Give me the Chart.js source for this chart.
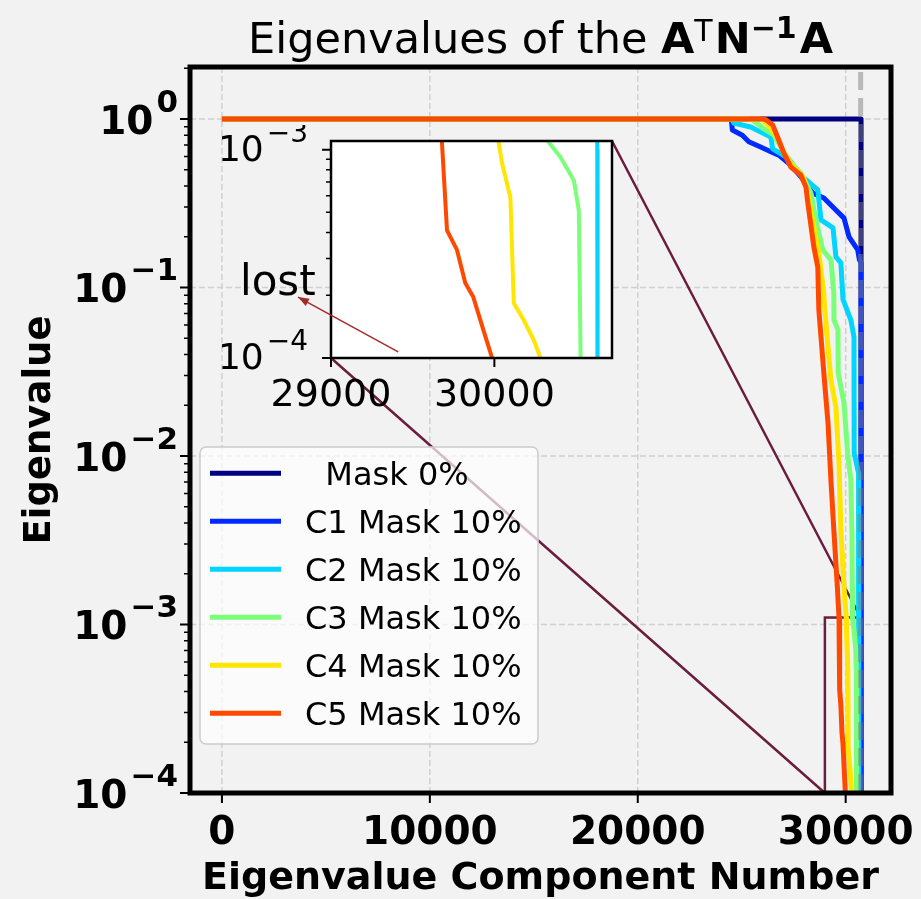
<!DOCTYPE html>
<html>
<head>
<meta charset="utf-8">
<script src="https://cdn.jsdelivr.net/npm/chart.js@4.4.1/dist/chart.umd.min.js"></script>
<style>
  html, body { margin: 0; padding: 0; background: #f2f2f2; }
  #wrap { position: relative; width: 921px; height: 899px; }
  #main { position: absolute; left: 0; top: 0; }
  #inset { position: absolute; left: 200px; top: 125px; }
</style>
</head>
<body>
<div id="wrap">
  <canvas id="main" width="921" height="899"></canvas>
  <canvas id="inset" width="430" height="300"></canvas>
</div>
<script>
// ---- data ----
const seriesLabels = ['  Mask 0%', 'C1 Mask 10%', 'C2 Mask 10%', 'C3 Mask 10%', 'C4 Mask 10%', 'C5 Mask 10%'];
const seriesColors = ['#000080', '#002aff', '#00d4ff', '#7bff7b', '#ffe500', '#ff4900'];

const mask0X = [0, 30740, 30740];
const mask0Y = [1, 1, 1e-6];

const c1X = [0, 24500, 24550, 25030, 25340, 25910, 26400, 26780, 27360, 27840, 28410, 28950, 29430, 29920, 30160, 30580, 30660, 30740, 30740];
const c1Y = [1, 1, 0.86, 0.80, 0.733, 0.682, 0.64, 0.61, 0.533, 0.455, 0.364, 0.34, 0.296, 0.258, 0.20, 0.167, 0.146, 0.14, 1e-6];

const c2X = [0, 24550, 24610, 25430, 26400, 26490, 27220, 27840, 28660, 28810, 29390, 29530, 29770, 29870, 30250, 30400, 30410, 30620, 30630, 30632];
const c2Y = [1, 1, 0.947, 0.896, 0.782, 0.664, 0.587, 0.465, 0.379, 0.252, 0.226, 0.152, 0.140, 0.085, 0.0641, 0.0508, 0.0104, 0.0079, 0.001, 1e-6];

const c3X = [0, 25300, 25530, 26010, 26540, 26880, 27360, 27840, 28330, 28570, 28900, 29290, 29430, 29440, 29630, 29640, 29920, 30110, 30250, 30300, 30320, 30330, 30405, 30487, 30517, 30528, 30532];
const c3Y = [1, 1, 0.986, 0.884, 0.804, 0.682, 0.548, 0.478, 0.364, 0.252, 0.167, 0.146, 0.0927, 0.0641, 0.056, 0.0311, 0.0206, 0.00986, 0.00721, 0.0036, 0.0017, 0.00109, 0.00092, 0.00071, 0.00051, 0.0001, 1e-6];

const c4X = [0, 25800, 26010, 26400, 26780, 27020, 27510, 27990, 28230, 28470, 28710, 28950, 28960, 29150, 29290, 29530, 29680, 29770, 29920, 30026, 30047, 30098, 30119, 30180, 30241, 30282, 30310];
const c4Y = [1, 1, 0.99, 0.884, 0.75, 0.629, 0.519, 0.447, 0.331, 0.229, 0.16, 0.0927, 0.0843, 0.0443, 0.0283, 0.0195, 0.00908, 0.00364, 0.00167, 0.00109, 0.00086, 0.00059, 0.000183, 0.000152, 0.000122, 0.0001, 1e-6];

const c5X = [0, 26000, 26160, 26490, 26780, 27020, 27360, 27840, 28090, 28180, 28470, 28660, 28710, 28950, 29150, 29290, 29430, 29600, 29679, 29710, 29771, 29822, 29871, 29933, 29986, 30010];
const c5Y = [1, 1, 0.99, 0.921, 0.75, 0.629, 0.519, 0.465, 0.395, 0.317, 0.174, 0.132, 0.0735, 0.0311, 0.0157, 0.00721, 0.00364, 0.00167, 0.00109, 0.00041, 0.00033, 0.000229, 0.000196, 0.000136, 0.0001, 1e-6];

// dashed vertical marker at the last component
const markerX = [30720, 30720];
const markerY = [1e-6, 10];

const mainXTicks = [0, 10000, 20000, 30000];
const mainYExps = [-4, -3, -2, -1, 0];
const insetXTicks = [29000, 30000];
const insetYExps = [-4, -3];
const insetXRange = [29000, 30720];
const insetYRange = [1e-4, 1.1e-3];

const lostTip = { x: 28798, y: 1.96e-4 };
const lostTail = { x: 29411, y: 1.07e-4 };

const FONT = '"DejaVu Sans", sans-serif';
const seriesX = [mask0X, c1X, c2X, c3X, c4X, c5X];
const seriesY = [mask0Y, c1Y, c2Y, c3Y, c4Y, c5Y];

function toPoints(xs, ys) {
  return xs.map((v, i) => ({ x: v, y: ys[i] }));
}

function makeDatasets(width) {
  return seriesLabels.map((lab, i) => ({
    label: lab,
    data: toPoints(seriesX[i], seriesY[i]),
    borderColor: seriesColors[i],
    borderWidth: width,
    order: 10 - i,
    clip: 0
  }));
}

function powLabel(ctx, exp, xRight, yTick, baseFont, supFont, baseDy, supDy) {
  const sup = exp < 0 ? '\u2212' + Math.abs(exp) : String(exp);
  ctx.font = baseFont;
  const wb = ctx.measureText('10').width;
  ctx.font = supFont;
  const ws = ctx.measureText(sup).width;
  const x0 = xRight - wb - ws - 3;
  ctx.font = baseFont;
  ctx.fillText('10', x0, yTick + baseDy);
  ctx.font = supFont;
  ctx.fillText(sup, x0 + wb + 3, yTick + supDy);
}

// ---- inset ----
const insetCanvas = document.getElementById('inset');

const insetDecor = {
  id: 'insetDecor',
  beforeDatasetsDraw(chart) {
    const { ctx, chartArea: a } = chart;
    ctx.save();
    ctx.fillStyle = '#ffffff';
    ctx.fillRect(a.left, a.top, a.right - a.left, a.bottom - a.top);
    ctx.restore();
  },
  afterDatasetsDraw(chart) {
    const { ctx, chartArea: a, scales: { x, y } } = chart;
    ctx.save();
    ctx.strokeStyle = '#000';
    ctx.lineWidth = 2.5;
    ctx.strokeRect(a.left, a.top, a.right - a.left, a.bottom - a.top);

    ctx.lineWidth = 2;
    ctx.beginPath();
    insetXTicks.forEach(v => {
      const p = x.getPixelForValue(v);
      ctx.moveTo(p, a.bottom); ctx.lineTo(p, a.bottom + 9);
    });
    insetYExps.forEach(e => {
      const p = y.getPixelForValue(Math.pow(10, e));
      ctx.moveTo(a.left - 9, p); ctx.lineTo(a.left, p);
    });
    ctx.stroke();
    ctx.lineWidth = 1.5;
    ctx.beginPath();
    for (let m = 2; m <= 9; m++) {
      const p = y.getPixelForValue(m * 1e-4);
      ctx.moveTo(a.left - 5, p); ctx.lineTo(a.left, p);
    }
    ctx.stroke();

    ctx.fillStyle = '#000';
    ctx.textAlign = 'center';
    ctx.textBaseline = 'alphabetic';
    ctx.font = '38px ' + FONT;
    insetXTicks.forEach(v => ctx.fillText(String(v), x.getPixelForValue(v), a.bottom + 48));
    ctx.textAlign = 'left';
    insetYExps.forEach(e => powLabel(ctx, e, a.left - 23, y.getPixelForValue(Math.pow(10, e)),
      '36px ' + FONT, '28px ' + FONT, 11, -8));

    // "lost" annotation
    const tx = x.getPixelForValue(lostTip.x), ty = y.getPixelForValue(lostTip.y);
    const sx = x.getPixelForValue(lostTail.x), sy = y.getPixelForValue(lostTail.y);
    ctx.strokeStyle = '#a52a2a';
    ctx.fillStyle = '#a52a2a';
    ctx.lineWidth = 1.5;
    ctx.beginPath();
    ctx.moveTo(sx, sy); ctx.lineTo(tx, ty);
    ctx.stroke();
    const ang = Math.atan2(ty - sy, tx - sx);
    ctx.beginPath();
    ctx.moveTo(tx, ty);
    ctx.lineTo(tx - 11 * Math.cos(ang) + 4 * Math.sin(ang), ty - 11 * Math.sin(ang) - 4 * Math.cos(ang));
    ctx.lineTo(tx - 11 * Math.cos(ang) - 4 * Math.sin(ang), ty - 11 * Math.sin(ang) + 4 * Math.cos(ang));
    ctx.closePath();
    ctx.fill();
    ctx.fillStyle = '#000';
    ctx.font = '42px "Comic Sans MS", ' + FONT;
    ctx.fillText('lost', tx - 58, ty - 2);
    ctx.restore();
  }
};

const insetChart = new Chart(insetCanvas, {
  type: 'line',
  data: { datasets: makeDatasets(4) },
  options: {
    responsive: false,
    animation: false,
    devicePixelRatio: 1,
    layout: { padding: { left: 0, right: 18, top: 16, bottom: 0 } },
    plugins: { legend: { display: false }, tooltip: { enabled: false } },
    elements: { point: { radius: 0 }, line: { tension: 0, borderJoinStyle: 'round' } },
    scales: {
      x: {
        type: 'linear', min: insetXRange[0], max: insetXRange[1],
        grid: { display: false }, ticks: { display: false }, border: { display: false },
        afterFit: s => { s.height = 67; }
      },
      y: {
        type: 'logarithmic', min: insetYRange[0], max: insetYRange[1],
        grid: { display: false }, ticks: { display: false }, border: { display: false },
        afterFit: s => { s.width = 131; }
      }
    }
  },
  plugins: [insetDecor]
});

// ---- main ----
const mainDecor = {
  id: 'mainDecor',
  beforeDatasetsDraw(chart) {
    const { ctx, chartArea: a, scales: { x, y } } = chart;
    ctx.save();
    ctx.strokeStyle = '#d0d0d0';
    ctx.lineWidth = 1.5;
    ctx.setLineDash([6, 3]);
    ctx.beginPath();
    mainXTicks.forEach(v => {
      const p = x.getPixelForValue(v);
      ctx.moveTo(p, a.top); ctx.lineTo(p, a.bottom);
    });
    mainYExps.forEach(e => {
      const p = y.getPixelForValue(Math.pow(10, e));
      ctx.moveTo(a.left, p); ctx.lineTo(a.right, p);
    });
    ctx.stroke();

    // zoom box and connectors
    ctx.setLineDash([]);
    ctx.strokeStyle = '#6b1d3d';
    ctx.lineWidth = 2.5;
    const rl = x.getPixelForValue(insetXRange[0]), rr = x.getPixelForValue(insetXRange[1]);
    const rt = y.getPixelForValue(insetYRange[1]), rb = y.getPixelForValue(insetYRange[0]);
    ctx.strokeRect(rl, rt, rr - rl, rb - rt);
    const ia = insetChart.chartArea, ox = insetCanvas.offsetLeft, oy = insetCanvas.offsetTop;
    ctx.beginPath();
    ctx.moveTo(ox + ia.left, oy + ia.bottom); ctx.lineTo(rl, rb);
    ctx.moveTo(ox + ia.right, oy + ia.top); ctx.lineTo(rr, rt);
    ctx.stroke();
    ctx.restore();
  },
  afterDatasetsDraw(chart) {
    const { ctx, chartArea: a, scales: { x, y } } = chart;
    ctx.save();

    // legend
    const lx = 200, ly = 447, lw = 338, lh = 297;
    ctx.beginPath();
    ctx.roundRect(lx, ly, lw, lh, 6);
    ctx.fillStyle = 'rgba(255,255,255,0.7)';
    ctx.fill();
    ctx.strokeStyle = '#cccccc';
    ctx.lineWidth = 1.5;
    ctx.stroke();
    ctx.font = '32px ' + FONT;
    ctx.textAlign = 'left';
    ctx.textBaseline = 'alphabetic';
    chart.data.datasets.filter(d => d.label).forEach((d, i) => {
      const cy = 473.3 + i * 48;
      ctx.strokeStyle = d.borderColor;
      ctx.lineWidth = 5;
      ctx.beginPath();
      ctx.moveTo(210, cy); ctx.lineTo(281, cy);
      ctx.stroke();
      ctx.fillStyle = '#000';
      ctx.fillText(d.label, 305, cy + 11.7);
    });

    // frame
    ctx.strokeStyle = '#000';
    ctx.lineWidth = 5;
    ctx.strokeRect(a.left, a.top, a.right - a.left, a.bottom - a.top);

    // ticks
    ctx.lineWidth = 2;
    ctx.beginPath();
    mainXTicks.forEach(v => {
      const p = x.getPixelForValue(v);
      ctx.moveTo(p, a.bottom); ctx.lineTo(p, a.bottom + 10);
    });
    mainYExps.forEach(e => {
      const p = y.getPixelForValue(Math.pow(10, e));
      ctx.moveTo(a.left - 10, p); ctx.lineTo(a.left, p);
    });
    ctx.stroke();
    ctx.lineWidth = 1.5;
    ctx.beginPath();
    for (let e = -4; e < 1; e++) {
      for (let m = 2; m <= 9; m++) {
        const v = m * Math.pow(10, e);
        if (v > y.max) continue;
        const p = y.getPixelForValue(v);
        ctx.moveTo(a.left - 6, p); ctx.lineTo(a.left, p);
      }
    }
    ctx.stroke();

    // tick labels
    ctx.fillStyle = '#000';
    ctx.textAlign = 'center';
    ctx.font = 'bold 39px ' + FONT;
    mainXTicks.forEach(v => ctx.fillText(String(v), x.getPixelForValue(v), 844));
    ctx.textAlign = 'left';
    mainYExps.forEach(e => powLabel(ctx, e, 178, y.getPixelForValue(Math.pow(10, e)),
      'bold 39px ' + FONT, 'bold 31px ' + FONT, 15, -7));

    // axis titles
    ctx.textAlign = 'center';
    ctx.font = 'bold 38px ' + FONT;
    ctx.fillText('Eigenvalue Component Number', (a.left + a.right) / 2, 889);
    ctx.save();
    ctx.translate(50, (a.top + a.bottom) / 2);
    ctx.rotate(-Math.PI / 2);
    ctx.font = 'bold 37px ' + FONT;
    ctx.fillText('Eigenvalue', 0, 0);
    ctx.restore();

    // title with bold math part
    const parts = [
      { t: 'Eigenvalues of the ', f: '43px ' + FONT, dy: 0 },
      { t: 'A', f: 'bold 43px ' + FONT, dy: 0 },
      { t: 'T', f: '30px ' + FONT, dy: -12 },
      { t: 'N', f: 'bold 43px ' + FONT, dy: 0, pad: 2 },
      { t: '\u22121', f: 'bold 30px ' + FONT, dy: -15 },
      { t: 'A', f: 'bold 43px ' + FONT, dy: 0, pad: 3 }
    ];
    let total = 0;
    parts.forEach(p => { ctx.font = p.f; p.w = ctx.measureText(p.t).width + (p.pad || 0); total += p.w; });
    let tx = (a.left + a.right) / 2 - total / 2;
    ctx.textAlign = 'left';
    parts.forEach(p => { ctx.font = p.f; ctx.fillText(p.t, tx + (p.pad || 0), 53 + p.dy); tx += p.w; });
    ctx.restore();
  }
};

const mainDatasets = makeDatasets(5);
mainDatasets.push({
  label: '',
  data: toPoints(markerX, markerY),
  borderColor: 'rgba(128,128,128,0.5)',
  borderWidth: 5,
  borderDash: [18, 8],
  order: 0,
  clip: 0
});

const mainChart = new Chart(document.getElementById('main'), {
  type: 'line',
  data: { datasets: mainDatasets },
  options: {
    responsive: false,
    animation: false,
    devicePixelRatio: 1,
    layout: { padding: { left: 0, right: 30, top: 67, bottom: 0 } },
    plugins: { legend: { display: false }, tooltip: { enabled: false } },
    elements: { point: { radius: 0 }, line: { tension: 0, borderJoinStyle: 'round' } },
    scales: {
      x: {
        type: 'linear', min: -1536, max: 32180,
        grid: { display: false }, ticks: { display: false }, border: { display: false },
        afterFit: s => { s.height = 106; }
      },
      y: {
        type: 'logarithmic', min: 1e-4, max: 2.035,
        grid: { display: false }, ticks: { display: false }, border: { display: false },
        afterFit: s => { s.width = 190; }
      }
    }
  },
  plugins: [mainDecor]
});
</script>
</body>
</html>
